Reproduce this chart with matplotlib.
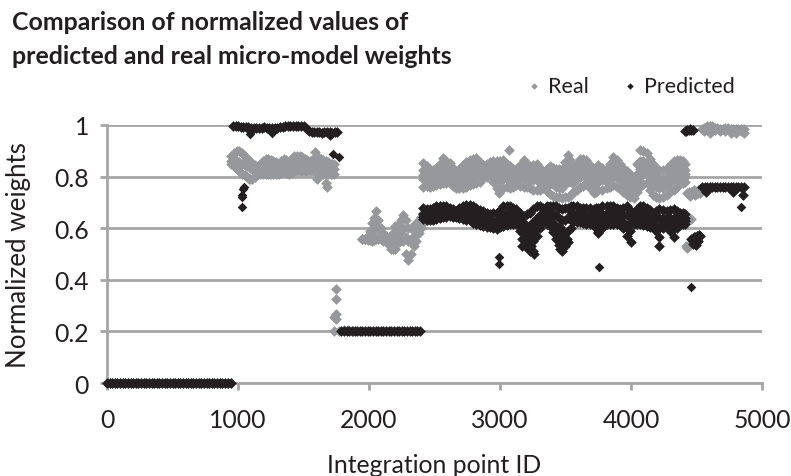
import matplotlib
matplotlib.use("Agg")
import matplotlib.pyplot as plt

plt.rcParams['font.family'] = ['Lato', 'DejaVu Sans']

GREY = "#97989b"
BLACK = "#231f20"
GRID = "#a6a6a6"
TEXT = "#231f20"

# both series sit on zero for the first block
zero_x = [0, 20, 40, 60, 80, 100, 120, 140, 160, 180, 200, 220, 240, 260, 280, 300, 320, 340, 360,
          380, 400, 420, 440, 460, 480, 500, 520, 540, 560, 580, 600, 620, 640, 660, 680, 700, 720,
          740, 760, 780, 800, 820, 840, 860, 880, 900, 920, 945]

# real, first block
real_a_x = [950, 990, 1030, 1070, 1110, 1150, 1190, 1230, 1270, 1310, 1350, 1390,
            1430, 1470, 1510, 1550, 1590, 1630, 1670, 1710, 1735]
real_a_top = [.88, .90, .89, .87, .85, .84, .86, .87, .86, .85, .87, .86,
              .88, .88, .87, .86, .895, .87, .86, .85, .85]
real_a_mid = [.86, .86, .85, .84, .83, .82, .84, .84, .83, .84, .85, .84,
              .85, .85, .84, .84, .85, .84, .84, .83, .83]
real_a_low = [.85, .83, .81, .80, .79, .81, .81, .81, .81, .81, .82, .81,
              .82, .82, .82, .82, .82, .81, .81, .81, .81]
real_a2_x = [970, 1010, 1050, 1090, 1130, 1170, 1210, 1250, 1290, 1330, 1370, 1410,
             1450, 1490, 1530, 1570, 1610, 1650, 1690, 1720]
real_a2_top = [.89, .90, .88, .86, .845, .85, .87, .865, .855, .86, .865, .87,
               .88, .875, .865, .87, .875, .865, .855, .85]
real_a2_mid = [.86, .855, .845, .835, .825, .83, .84, .835, .835, .845, .845, .845,
               .85, .845, .84, .845, .845, .84, .835, .83]
real_a2_low = [.84, .82, .805, .79, .80, .81, .81, .81, .81, .815, .815, .815,
               .82, .82, .82, .82, .815, .81, .81, .81]
real_a_extra_x = [1085, 1600, 1680, 1672]
real_a_extra_y = [.79, .79, .76, .775]

# real, jump near 1750
real_b_x = [1745, 1745, 1745, 1735, 1750, 1730, 1770, 1810, 1840, 1880]
real_b_y = [.364, .325, .267, .255, .25, .2, .2, .207, .207, .2]

# real, low block
real_c_x = [1950, 1990, 2020, 2050, 2090, 2130, 2170, 2200, 2230, 2260, 2300, 2340, 2380, 2410]
real_c_top = [.56, .57, .62, .665, .60, .57, .56, .61, .60, .65, .60, .60, .63, .66]
real_c_mid = [.56, .56, .58, .61, .58, .56, .54, .57, .58, .60, .55, .57, .60, .64]
real_c_low = [.56, .555, .55, .56, .56, .55, .52, .52, .56, .55, .475, .53, .58, .62]
real_c2_x = [1970, 2005, 2035, 2070, 2110, 2150, 2185, 2215, 2245, 2280, 2320, 2360, 2395]
real_c2_top = [.56, .59, .64, .63, .58, .565, .58, .61, .63, .63, .60, .62, .645]
real_c2_mid = [.56, .57, .60, .595, .565, .55, .55, .575, .59, .565, .55, .585, .62]
real_c2_low = [.56, .555, .555, .56, .55, .535, .52, .54, .555, .50, .50, .55, .60]

# main block, same columns for both series
band_x = [2415, 2465, 2515, 2565, 2615, 2665, 2715, 2770, 2820, 2870, 2925, 2975, 3025, 3075,
          3125, 3180, 3230, 3280, 3330, 3380, 3430, 3470, 3520, 3560, 3610, 3660, 3715, 3750,
          3815, 3865, 3915, 3970, 4020, 4070, 4120, 4170, 4210, 4275, 4325, 4375, 4413]
real_top = [.853, .82, .833, .872, .853, .82, .845, .864, .872, .845, .855, .86, .864, .84,
            .83, .864, .84, .85, .82, .84, .83, .83, .885, .84, .87, .865, .825, .845,
            .83, .875, .85, .82, .80, .905, .89, .85, .825, .83, .86, .865, .85]
real_upper = [.825, .80, .81, .84, .83, .80, .82, .83, .84, .83, .835, .835, .835, .82,
              .81, .83, .815, .825, .80, .815, .805, .80, .84, .815, .84, .835, .80, .82,
              .81, .84, .82, .79, .775, .86, .85, .815, .80, .80, .83, .84, .825]
real_fill = [.807, .79, .797, .82, .815, .787, .80, .812, .822, .82, .828, .812, .812, .80,
             .797, .81, .80, .805, .787, .792, .782, .777, .81, .795, .82, .817, .782, .802,
             .795, .82, .802, .772, .757, .83, .83, .792, .777, .78, .81, .82, .812]
real_lower = [.79, .78, .785, .80, .80, .775, .785, .795, .805, .81, .82, .79, .79, .785,
              .785, .79, .785, .785, .775, .77, .76, .755, .78, .775, .80, .80, .765, .785,
              .78, .80, .785, .755, .74, .80, .81, .77, .755, .76, .79, .80, .80]
real_bottom = [.761, .761, .767, .774, .774, .755, .755, .767, .774, .793, .806, .755, .755, .755,
               .767, .761, .755, .748, .755, .733, .72, .716, .722, .742, .761, .774, .735, .748,
               .755, .767, .755, .729, .716, .761, .774, .729, .716, .729, .748, .774, .78]
real_spike_x = [3066, 2990, 2990]
real_spike_y = [.905, .75, .735]

band2_x = [2440, 2490, 2540, 2590, 2640, 2690, 2742, 2795, 2845, 2897, 2950, 3000, 3050, 3100,
           3152, 3205, 3255, 3305, 3355, 3405, 3450, 3495, 3540, 3585, 3635, 3687, 3732, 3782,
           3840, 3890, 3942, 3995, 4045, 4095, 4145, 4190, 4242, 4300, 4350, 4394]
real2_top = [.84, .825, .85, .86, .835, .83, .855, .87, .855, .85, .86, .86, .85, .83,
             .845, .85, .845, .835, .83, .835, .83, .855, .86, .85, .87, .845, .835, .835,
             .85, .865, .835, .81, .85, .90, .87, .835, .825, .845, .865, .86]
real2_upper = [.81, .80, .825, .835, .81, .805, .83, .84, .83, .83, .84, .835, .825, .81,
               .82, .82, .82, .81, .805, .81, .80, .82, .825, .825, .84, .82, .81, .81,
               .825, .835, .805, .785, .81, .86, .83, .80, .795, .815, .835, .835]
real2_fill = [.797, .79, .81, .817, .797, .792, .81, .82, .817, .822, .825, .81, .807, .797,
              .805, .805, .802, .792, .79, .79, .777, .795, .802, .807, .822, .802, .79, .797,
              .807, .815, .787, .762, .792, .837, .812, .78, .775, .795, .817, .82]
real2_lower = [.785, .78, .795, .80, .785, .78, .79, .80, .805, .815, .81, .785, .79, .785,
               .79, .79, .785, .775, .775, .77, .755, .77, .78, .79, .805, .785, .77, .785,
               .79, .795, .77, .74, .775, .815, .795, .76, .755, .775, .80, .805]
real2_bottom = [.765, .765, .77, .775, .765, .755, .76, .77, .78, .80, .78, .755, .76, .76,
                .765, .76, .75, .75, .745, .725, .72, .72, .73, .75, .765, .755, .74, .75,
                .76, .76, .74, .72, .74, .77, .75, .72, .72, .74, .76, .775]

pred_top = [.68, .674, .687, .687, .68, .668, .687, .69, .68, .668, .655, .66, .685, .685,
            .674, .649, .66, .687, .68, .687, .685, .674, .68, .687, .68, .68, .674, .68,
            .687, .687, .674, .687, .66, .687, .68, .66, .674, .668, .674, .66, .655]
pred_mid = [.655, .65, .66, .665, .665, .65, .66, .665, .65, .64, .63, .63, .655, .66,
            .65, .62, .61, .64, .65, .66, .65, .63, .64, .66, .65, .65, .65, .65,
            .66, .66, .65, .65, .64, .66, .65, .63, .64, .64, .64, .64, .64]
pred_fill = [.645, .64, .648, .653, .656, .646, .648, .648, .633, .625, .617, .614, .632, .638,
             .633, .59, .56, .605, .637, .635, .605, .57, .59, .642, .637, .633, .633, .617,
             .638, .638, .633, .61, .628, .638, .63, .617, .60, .625, .60, .628, .628]
pred_bottom = [.636, .63, .636, .642, .648, .642, .636, .63, .616, .61, .603, .597, .61, .616,
               .616, .558, .513, .571, .623, .61, .558, .513, .545, .623, .623, .616, .616, .584,
               .616, .616, .616, .571, .616, .616, .61, .603, .565, .61, .565, .616, .616]
pred2_top = [.675, .68, .687, .685, .675, .678, .69, .685, .672, .66, .658, .672, .685, .68,
             .66, .655, .675, .685, .685, .687, .68, .678, .685, .685, .68, .678, .678, .685,
             .687, .68, .68, .672, .675, .685, .672, .667, .67, .67, .668, .658]
pred2_mid = [.65, .655, .665, .665, .655, .655, .665, .66, .64, .635, .625, .645, .66, .655,
             .635, .60, .625, .65, .655, .655, .64, .63, .655, .655, .65, .65, .65, .655,
             .66, .655, .65, .645, .65, .655, .64, .635, .64, .64, .64, .64]
pred2_fill = [.64, .64, .65, .655, .65, .645, .645, .64, .625, .62, .61, .62, .635, .635,
              .61, .57, .585, .625, .635, .62, .585, .58, .63, .64, .635, .63, .625, .63,
              .64, .635, .625, .62, .635, .635, .62, .61, .62, .615, .62, .63]
pred2_bottom = [.632, .632, .64, .645, .645, .638, .632, .622, .612, .606, .60, .605, .612, .616,
                .59, .535, .55, .60, .615, .585, .535, .53, .60, .625, .62, .615, .60, .60,
                .615, .615, .60, .59, .615, .612, .605, .59, .60, .59, .60, .615]
# dips that run below the band
pred_dip_x = [3180, 3195, 3215, 3230, 3260, 3165, 3430, 3450, 3470, 3500, 3490, 3455, 3750, 3970, 4000,
              4210, 4213, 4325, 3180, 3230, 3450, 3170, 3190, 3205, 3220, 3240, 3250, 3200, 3185,
              3420, 3440, 3460, 3480, 3510, 3440, 3460]
pred_dip_y = [.60, .56, .58, .56, .50, .53, .60, .57, .55, .55, .58, .52, .58, .60, .547,
              .60, .53, .60, .585, .60, .585, .56, .53, .545, .525, .53, .51, .59, .60,
              .58, .56, .545, .53, .56, .60, .605]
pred_lone_x = [2992, 2992, 3756, 4458, 1090, 1260, 1722, 1770, 1030, 1030, 1030, 1038, 1042, 4838]
pred_lone_y = [.49, .46, .45, .373, .965, .97, .887, .876, .682, .72, .73, .752, .76, .683]

# predicted, first block on the ceiling
pred_a_x = [965, 985, 1000, 1020, 1040, 1060, 1080, 1100, 1120, 1140, 1160, 1180, 1200, 1220, 1240, 1260,
            1280, 1300, 1320, 1340, 1360, 1380, 1400, 1420, 1440, 1460, 1480, 1500, 1520,
            1545, 1565, 1580, 1600, 1620, 1640, 1660, 1680, 1700, 1720, 1740, 1755]
pred_a_y = [.997, .997, .995, .993, .992, .992, .992, .99, .99, .99, .99, .99, .992, .99, .99, .99,
            .99, .99, .992, .993, .995, .996, .997, .997, .997, .997, .997, .995, .99,
            .975, .972, .972, .972, .972, .97, .972, .972, .972, .97, .972, .972]
pred_a_extra_x = [1100, 1700]
pred_a_extra_y = [.975, .96]

# predicted, flat 0.2 block
pred_b_x = [1790, 1810, 1830, 1850, 1870, 1890, 1910, 1930, 1950, 1970, 1990, 2010, 2030, 2050, 2070, 2090,
            2110, 2130, 2150, 2170, 2190, 2210, 2230, 2250, 2270, 2290, 2310, 2330, 2350, 2370, 2390]
pred_b_y = [.2, .2, .2, .2, .2, .2, .2, .2, .2, .2, .2, .2, .2, .2, .2, .2,
            .2, .2, .2, .2, .2, .2, .2, .2, .2, .2, .2, .2, .2, .2, .2]

# end of the range
real_d_x = [4430, 4445, 4460, 4480, 4500, 4515, 4530, 4420, 4430, 4440, 4458, 4480, 4510, 4450, 4490]
real_d_y = [.735, .74, .74, .74, .74, .735, .735, .53, .525, .535, .635, .75, .75, .725, .73]
real_e_x = [4540, 4560, 4580, 4600, 4620, 4640, 4660, 4680, 4700, 4720, 4740, 4760, 4780, 4800, 4820, 4840, 4860,
            4560, 4600, 4640, 4680, 4720, 4760, 4800, 4840, 4860]
real_e_y = [.985, .99, .995, .995, .995, .99, .99, .985, .985, .99, .99, .985, .985, .985, .985, .985, .985,
            .975, .97, .98, .975, .975, .97, .97, .975, .97]

pred_e_x = [4410, 4420, 4430, 4440, 4450, 4460, 4470, 4460, 4470, 4480, 4490, 4500, 4510, 4520, 4530,
            4475, 4485, 4495, 4505, 4515, 4490]
pred_e_y = [.977, .977, .98, .98, .985, .98, .98, .56, .56, .565, .565, .57, .57, .575, .57,
            .54, .54, .535, .545, .55, .545]
pred_f_x = [4545, 4565, 4580, 4600, 4620, 4640, 4660, 4680, 4700, 4720, 4740, 4760, 4780, 4800, 4820, 4840, 4860,
            4570, 4775, 4855]
pred_f_y = [.758, .76, .76, .76, .76, .758, .758, .76, .76, .76, .76, .758, .758, .758, .758, .76, .76,
            .74, .74, .73]

real_x = (zero_x + real_a_x * 3 + real_a2_x * 3 + real_a_extra_x + real_b_x + real_c_x * 3 + real_c2_x * 3
          + band_x * 5 + band2_x * 5 + real_spike_x + real_d_x + real_e_x)
real_y = ([0] * len(zero_x) + real_a_top + real_a_mid + real_a_low + real_a2_top + real_a2_mid + real_a2_low
          + real_a_extra_y + real_b_y + real_c_top + real_c_mid + real_c_low + real_c2_top + real_c2_mid + real_c2_low
          + real_top + real_upper + real_fill + real_lower + real_bottom
          + real2_top + real2_upper + real2_fill + real2_lower + real2_bottom
          + real_spike_y + real_d_y + real_e_y)

pred_x = (zero_x + pred_a_x + pred_a_extra_x + pred_b_x + band_x * 4 + band2_x * 4
          + pred_dip_x + pred_e_x + pred_f_x)
pred_y = ([0] * len(zero_x) + pred_a_y + pred_a_extra_y + pred_b_y + pred_top + pred_mid + pred_fill + pred_bottom
          + pred2_top + pred2_mid + pred2_fill + pred2_bottom + pred_dip_y + pred_e_y + pred_f_y)

fig = plt.figure(figsize=(7.91, 4.77), dpi=100)
ax = fig.add_axes([107 / 791, 1 - 384 / 477, 655 / 791, 258 / 477])

ax.scatter(real_x, real_y, s=30, marker="D", color=GREY, linewidths=0, clip_on=False, zorder=3, label="Real")
ax.scatter(pred_x, pred_y, s=30, marker="D", color=BLACK, linewidths=0, clip_on=False, zorder=4, label="Predicted")
ax.scatter(pred_lone_x, pred_lone_y, s=24, marker="D", color=BLACK, linewidths=0, clip_on=False, zorder=4)

ax.set_xlim(0, 5000)
ax.set_ylim(0, 1)
ax.set_xticks([0, 1000, 2000, 3000, 4000, 5000])
ax.set_yticks([0, 0.2, 0.4, 0.6, 0.8, 1])
ax.set_yticklabels(["0", "0.2", "0.4", "0.6", "0.8", "1"])
ax.grid(axis="y", color=GRID, linewidth=2, zorder=1)
ax.set_axisbelow(True)

for side in ["top", "right"]:
    ax.spines[side].set_visible(False)
for side in ["left", "bottom"]:
    ax.spines[side].set_color(GRID)
    ax.spines[side].set_linewidth(2)
ax.tick_params(axis="both", color=GRID, width=2, length=5, labelsize=17.8, labelcolor=TEXT)
ax.tick_params(axis="x", pad=13)
ax.tick_params(axis="y", pad=8)

ax.set_xlabel("Integration point ID", fontsize=17.8, color=TEXT, labelpad=16)
ax.set_ylabel("Normalized weights", fontsize=18.6, color=TEXT, labelpad=17)

fig.text(12 / 791, 1 - 23 / 477, "Comparison of normalized values of", fontsize=17.9, fontweight="bold",
         color=TEXT, va="center", ha="left")
fig.text(12 / 791, 1 - 56 / 477, "predicted and real micro-model weights", fontsize=17.9, fontweight="bold",
         color=TEXT, va="center", ha="left")

leg = ax.legend(loc="center left", bbox_to_anchor=(505 / 791, 1 - 87 / 477), bbox_transform=fig.transFigure,
                ncol=2, frameon=False, fontsize=15.5, markerscale=0.6, handlelength=0.9, handletextpad=0.2,
                columnspacing=1.45)
for t in leg.get_texts():
    t.set_color(TEXT)

fig.savefig("out.png", dpi=100)
